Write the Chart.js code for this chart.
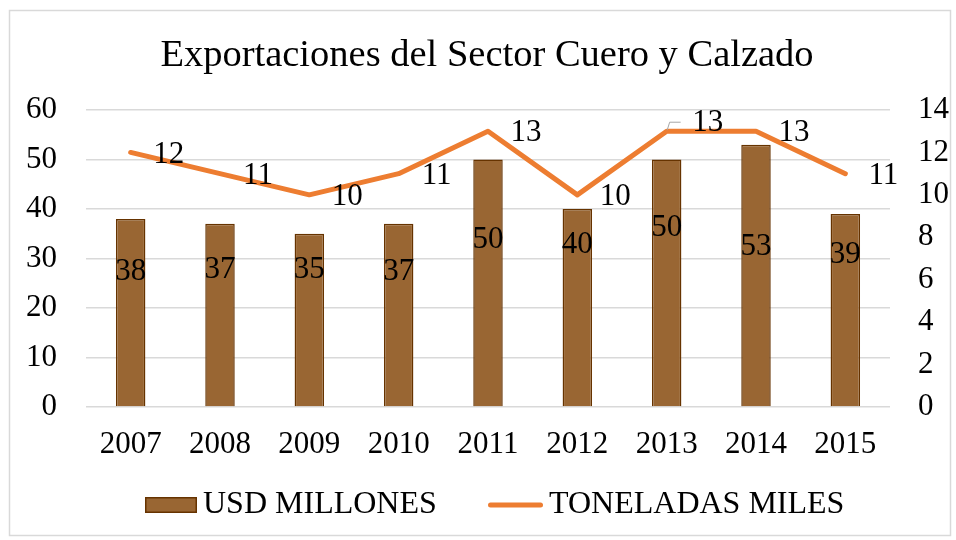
<!DOCTYPE html>
<html>
<head>
<meta charset="utf-8">
<script src="https://cdn.jsdelivr.net/npm/chart.js@4.4.1/dist/chart.umd.min.js"></script>
<style>
  html, body { margin: 0; padding: 0; background: #fff; }
  #wrap { position: relative; width: 956px; height: 540px; }
</style>
</head>
<body>
<div id="wrap"><canvas id="c" width="956" height="540"></canvas></div>
<script>
const chartTitle = 'Exportaciones del Sector Cuero y Calzado';
const years = ['2007', '2008', '2009', '2010', '2011', '2012', '2013', '2014', '2015'];
const usdMillones = [38, 37, 35, 37, 50, 40, 50, 53, 39];
const toneladasMiles = [12, 11, 10, 11, 13, 10, 13, 13, 11];
const leftTicks = [0, 10, 20, 30, 40, 50, 60];
const rightTicks = [0, 2, 4, 6, 8, 10, 12, 14];

const FONT = '"Liberation Serif", "Times New Roman", serif';

const decorPlugin = {
  id: 'decor',
  beforeDraw(chart) {
    const ctx = chart.ctx;
    ctx.save();
    ctx.fillStyle = '#fff';
    ctx.fillRect(0, 0, chart.width, chart.height);
    ctx.strokeStyle = '#d9d9d9';
    ctx.lineWidth = 1.5;
    ctx.strokeRect(9.5, 10.5, 941, 525);
    ctx.fillStyle = '#000';
    ctx.font = '38.5px ' + FONT;
    ctx.textAlign = 'center';
    ctx.textBaseline = 'middle';
    ctx.fillText(chartTitle, 487, 56);
    ctx.restore();
  },
  afterDatasetsDraw(chart, args, opts) {
    const ctx = chart.ctx;
    ctx.save();
    ctx.fillStyle = '#000';
    ctx.font = '31px ' + FONT;
    ctx.textAlign = 'center';
    ctx.textBaseline = 'middle';
    const barMeta = chart.getDatasetMeta(0);
    barMeta.data.forEach((el, i) => {
      const off = opts.barLabelOffset[i];
      ctx.fillText(String(usdMillones[i]), el.x, el.y + off);
    });
    const lineMeta = chart.getDatasetMeta(1);
    lineMeta.data.forEach((el, i) => {
      let dx = 38, dy = 2;
      if (i === 6) {
        dx = 41; dy = -8;
        ctx.save();
        ctx.strokeStyle = '#a6a6a6';
        ctx.lineWidth = 1;
        ctx.beginPath();
        ctx.moveTo(el.x + 0.5, el.y - 1);
        ctx.lineTo(el.x + 3, el.y - 9);
        ctx.lineTo(el.x + 14, el.y - 9);
        ctx.stroke();
        ctx.restore();
      }
      ctx.fillText(String(toneladasMiles[i]), el.x + dx, el.y + dy);
    });
    ctx.restore();
  },
  afterDraw(chart, args, opts) {
    // legend drawn from the datasets' own labels and colours
    const ctx = chart.ctx;
    const ds = chart.data.datasets;
    const cy = 505;
    ctx.save();
    ctx.font = '32px ' + FONT;
    ctx.textBaseline = 'middle';
    ctx.textAlign = 'left';
    // bar item
    let x = opts.legendX[0];
    ctx.fillStyle = ds[0].backgroundColor;
    ctx.strokeStyle = ds[0].borderColor;
    ctx.lineWidth = 1.5;
    ctx.fillRect(x, cy - 8, 52, 16);
    ctx.strokeRect(x + 0.75, cy - 7.25, 50.5, 14.5);
    ctx.fillStyle = '#000';
    ctx.fillText(ds[0].label, x + 58, cy);
    // line item
    x = opts.legendX[1];
    ctx.strokeStyle = ds[1].borderColor;
    ctx.lineWidth = 5;
    ctx.lineCap = 'round';
    ctx.beginPath();
    ctx.moveTo(x + 2.5, cy);
    ctx.lineTo(x + 52.5, cy);
    ctx.stroke();
    ctx.fillStyle = '#000';
    ctx.fillText(ds[1].label, x + 61, cy);
    ctx.restore();
  }
};

new Chart(document.getElementById('c'), {
  type: 'bar',
  data: {
    labels: years,
    datasets: [
      {
        type: 'bar',
        label: 'USD MILLONES',
        data: usdMillones,
        backgroundColor: '#996633',
        borderColor: '#663300',
        borderWidth: 1.5,
        categoryPercentage: 1,
        barPercentage: 0.33,
        yAxisID: 'y',
        order: 1
      },
      {
        type: 'line',
        label: 'TONELADAS MILES',
        data: toneladasMiles,
        borderColor: '#ED7D31',
        backgroundColor: '#ED7D31',
        borderWidth: 5,
        borderCapStyle: 'round',
        borderJoinStyle: 'round',
        pointRadius: 0,
        pointHoverRadius: 0,
        tension: 0,
        yAxisID: 'y1',
        order: 0
      }
    ]
  },
  options: {
    responsive: false,
    animation: false,
    events: [],
    layout: { padding: { left: 0, right: 0, top: 110, bottom: 63 } },
    plugins: {
      title: { display: false },
      tooltip: { enabled: false },
      legend: { display: false },
      decor: {
        barLabelOffset: [53, 46, 36, 48, 80, 36, 68, 102, 41],
        legendX: [145, 488]
      }
    },
    scales: {
      x: {
        grid: { display: false, drawTicks: false },
        border: { display: false },
        ticks: { color: '#000', font: { family: FONT, size: 31 }, padding: 19, maxRotation: 0, autoSkip: false },
        afterFit(s) { s.height = 70; }
      },
      y: {
        position: 'left',
        min: leftTicks[0],
        max: leftTicks[leftTicks.length - 1],
        afterBuildTicks(s) { s.ticks = leftTicks.map(v => ({ value: v })); },
        grid: { color: '#d9d9d9', lineWidth: 1.5, drawTicks: false },
        border: { display: false },
        ticks: { color: '#000', font: { family: FONT, size: 31 }, padding: 29, autoSkip: false },
        afterFit(s) { s.width = 86; }
      },
      y1: {
        position: 'right',
        min: rightTicks[0],
        max: rightTicks[rightTicks.length - 1],
        afterBuildTicks(s) { s.ticks = rightTicks.map(v => ({ value: v })); },
        grid: { display: false, drawTicks: false },
        border: { display: false },
        ticks: { color: '#000', font: { family: FONT, size: 31 }, padding: 28, autoSkip: false },
        afterFit(s) { s.width = 66; }
      }
    }
  },
  plugins: [decorPlugin]
});
</script>
</body>
</html>
